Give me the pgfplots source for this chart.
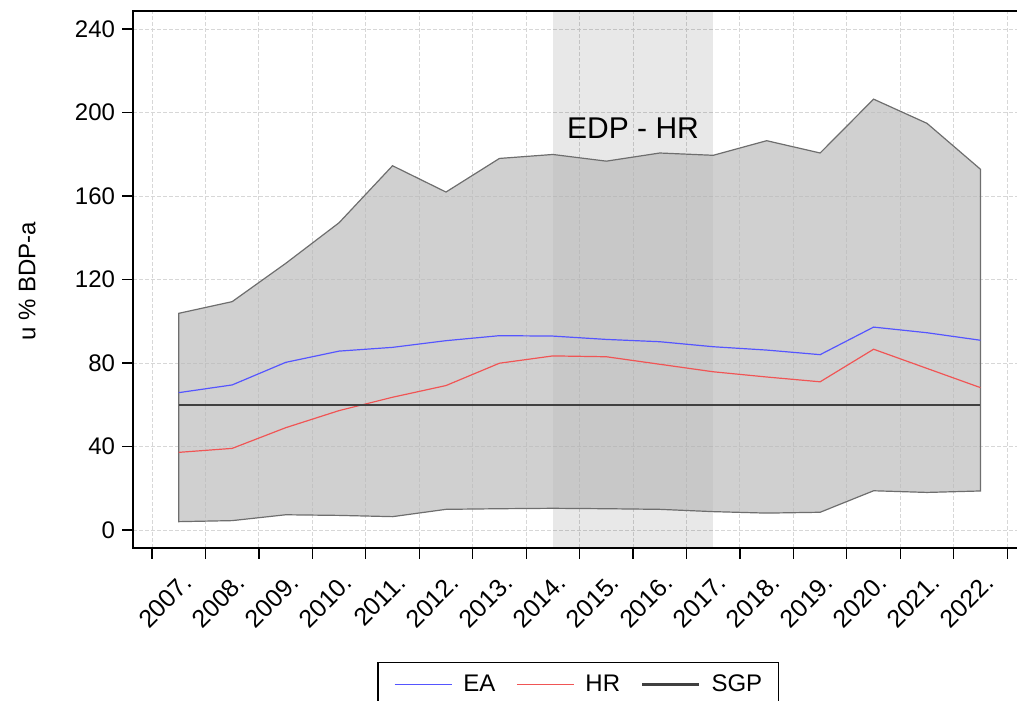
\documentclass[border=0pt]{standalone}
\usepackage{fontspec}
\setmainfont{Liberation Sans}
\usepackage{pgfplots}
\pgfplotsset{compat=1.18}
\definecolor{eablue}{RGB}{85,85,255}
\definecolor{hrred}{RGB}{240,85,85}
\definecolor{sgpgray}{RGB}{64,64,64}
\definecolor{areagray}{RGB}{183,183,183}
\definecolor{edgegray}{RGB}{110,110,110}
\definecolor{gridgray}{RGB}{215,215,215}
\begin{document}
\begin{tikzpicture}
\begin{axis}[
  x=26.725pt, y=1.04375pt,
  xmin=-0.355, xmax=16.3, ymin=-8.6, ymax=248.6,
  axis line style={line width=1pt},
  tick align=outside,
  xtick pos=left, ytick pos=left,
  xtick={0.5,1.5,...,15.5},
  xticklabels={2007.,2008.,2009.,2010.,2011.,2012.,2013.,2014.,2015.,2016.,2017.,2018.,2019.,2020.,2021.,2022.},
  minor xtick={0,1,...,16},
  ytick={0,40,...,240},
  major tick length=5.5pt, minor tick length=5.5pt,
  major x tick style={draw=none},
  tick style={black, line width=0.6pt},
  xminorgrids=true, ymajorgrids=true, xmajorgrids=false,
  major grid style={gridgray, dash pattern=on 2pt off 1pt, line width=0.5pt},
  minor grid style={gridgray, dash pattern=on 2pt off 1pt, line width=0.5pt},
  /pgf/number format/assume math mode=true,
  ticklabel style={font=\fontsize{12}{14}\selectfont},
  xticklabel style={font=\fontsize{12.5}{14}\selectfont, rotate=45, anchor=east, xshift=-0.5pt, yshift=-10pt},
  ylabel={u \% BDP-a},
  ylabel style={font=\fontsize{12}{14}\selectfont, at={(axis description cs:-0.119,0.497)}, anchor=center},
  legend columns=3,
  legend style={at={(0.5,-0.212)}, anchor=north, draw=black, line width=0.7pt,
    inner xsep=8pt, inner ysep=4pt, font=\fontsize{12}{14}\selectfont,
    nodes={inner xsep=0pt},
    /tikz/every odd column/.append style={column sep=5.5pt},
    /tikz/every even column/.append style={column sep=10.5pt}},
  legend image code/.code={\draw[#1] (0pt,0pt) -- (28.5pt,0pt);},
]
% EDP shading
\addplot[fill=black, fill opacity=0.09, draw=none, forget plot]
  coordinates {(7.5,-8.6) (10.5,-8.6) (10.5,248.6) (7.5,248.6)} -- cycle;
% min-max range area
\addplot[fill=areagray, fill opacity=0.65, draw=edgegray, line width=0.6pt, forget plot]
  coordinates {
  (0.5,103.8) (1.5,109.4) (2.5,127.7) (3.5,147.2) (4.5,174.5) (5.5,161.9)
  (6.5,178.0) (7.5,179.9) (8.5,176.7) (9.5,180.6) (10.5,179.5) (11.5,186.5)
  (12.5,180.6) (13.5,206.4) (14.5,194.8) (15.5,172.8)
  (15.5,18.7) (14.5,18.0) (13.5,18.8) (12.5,8.5) (11.5,8.1) (10.5,8.8)
  (9.5,9.9) (8.5,10.2) (7.5,10.4) (6.5,10.2) (5.5,9.9) (4.5,6.4)
  (3.5,7.0) (2.5,7.3) (1.5,4.5) (0.5,4.0)
  } -- cycle;
\addplot[eablue, line width=0.6pt] coordinates {
  (0.5,65.8) (1.5,69.5) (2.5,80.3) (3.5,85.7) (4.5,87.5) (5.5,90.7)
  (6.5,93.1) (7.5,92.9) (8.5,91.3) (9.5,90.2) (10.5,87.8) (11.5,86.2)
  (12.5,84.0) (13.5,97.2) (14.5,94.5) (15.5,90.9)};
\addlegendentry{EA}
\addplot[hrred, line width=0.6pt] coordinates {
  (0.5,37.2) (1.5,39.1) (2.5,49.0) (3.5,57.2) (4.5,63.6) (5.5,69.2)
  (6.5,79.9) (7.5,83.4) (8.5,83.0) (9.5,79.4) (10.5,75.8) (11.5,73.3)
  (12.5,71.0) (13.5,86.6) (14.5,77.4) (15.5,68.2)};
\addlegendentry{HR}
\addplot[sgpgray, line width=1.2pt] coordinates {(0.5,60) (15.5,60)};
\addlegendentry{SGP}
\node[font=\fontsize{15}{18}\selectfont] at (axis cs:9,192.6) {EDP - HR};
\coordinate (bbbl) at (axis cs:-2.844,-81.44);
\coordinate (bbtr) at (axis cs:16.183,253.9);
\end{axis}
\pgfresetboundingbox
\path[use as bounding box] (bbbl) rectangle (bbtr);
\end{tikzpicture}
\end{document}
